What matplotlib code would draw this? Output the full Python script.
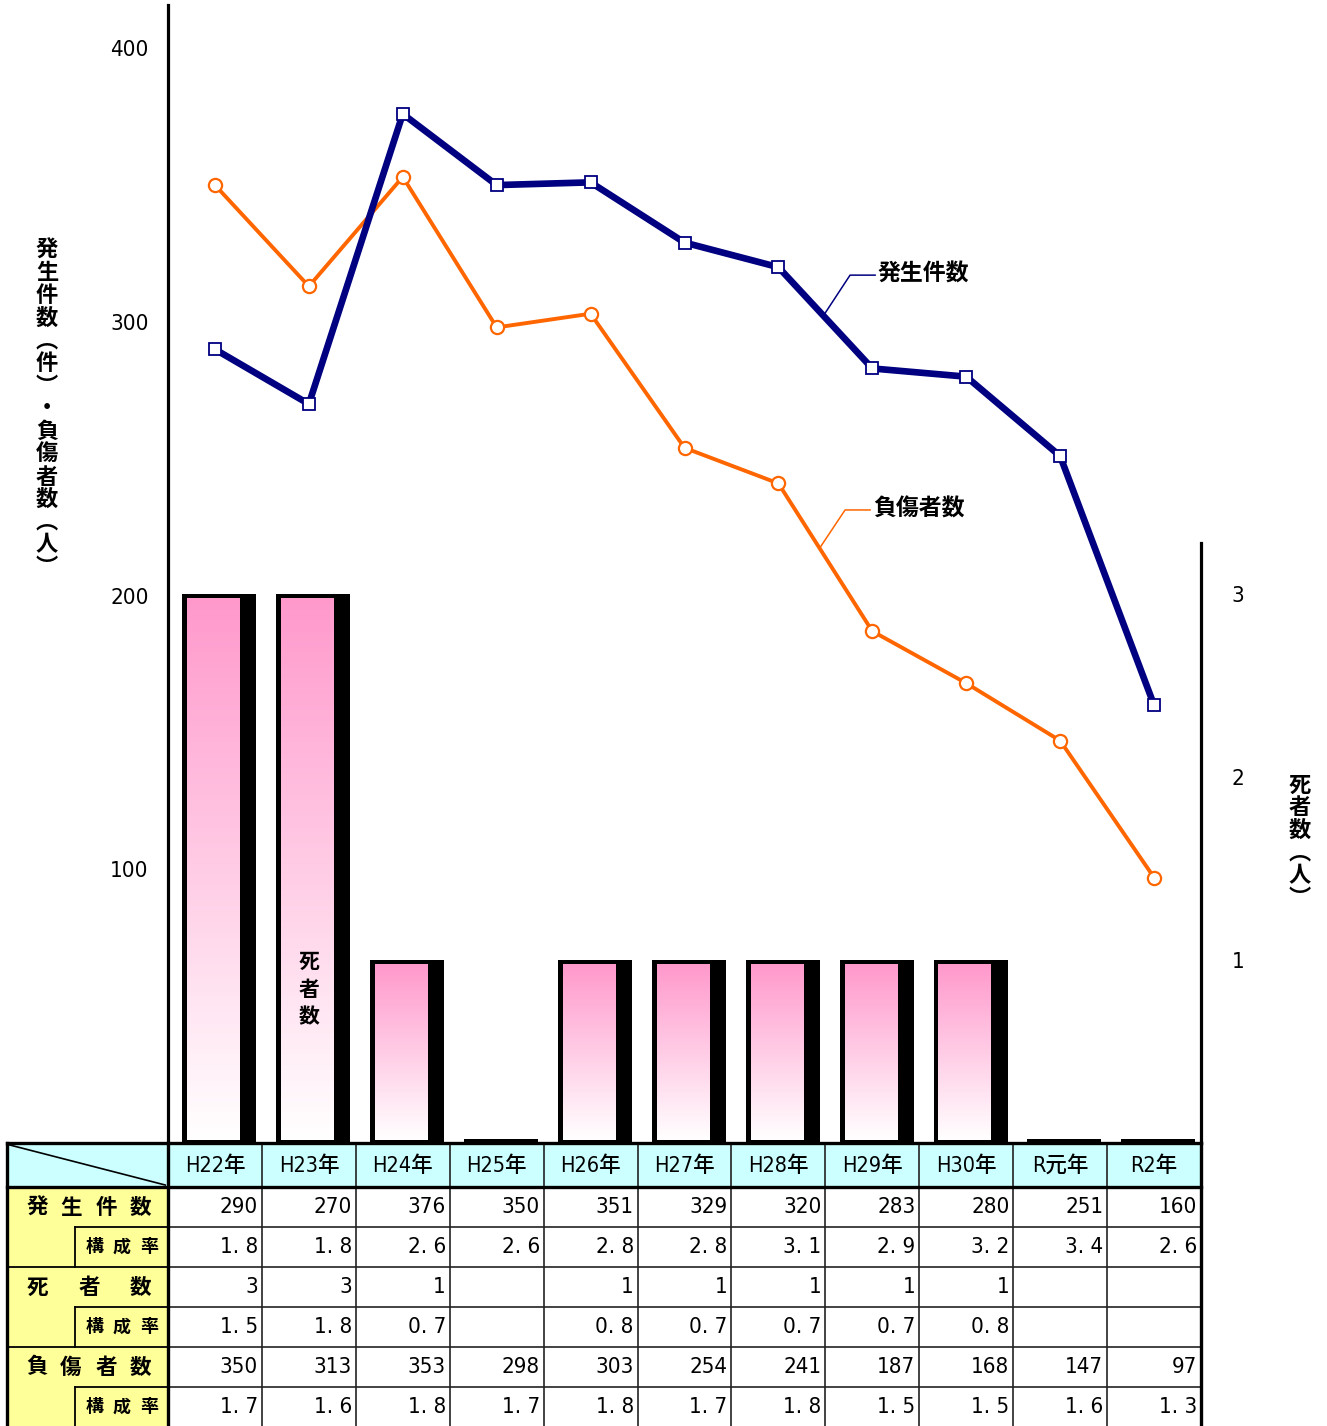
import numpy as np
import matplotlib
matplotlib.use('Agg')
import matplotlib.pyplot as plt
from matplotlib.colors import LinearSegmentedColormap
from matplotlib.patches import Rectangle

plt.rcParams['font.family'] = ['Noto Sans CJK JP', 'DejaVu Sans']

years = ['H22年', 'H23年', 'H24年', 'H25年', 'H26年', 'H27年',
         'H28年', 'H29年', 'H30年', 'R元年', 'R2年']
accidents = [290, 270, 376, 350, 351, 329, 320, 283, 280, 251, 160]
acc_rate = ['1. 8', '1. 8', '2. 6', '2. 6', '2. 8', '2. 8', '3. 1', '2. 9', '3. 2', '3. 4', '2. 6']
deaths = [3, 3, 1, None, 1, 1, 1, 1, 1, None, None]
death_rate = ['1. 5', '1. 8', '0. 7', '', '0. 8', '0. 7', '0. 7', '0. 7', '0. 8', '', '']
injured = [350, 313, 353, 298, 303, 254, 241, 187, 168, 147, 97]
inj_rate = ['1. 7', '1. 6', '1. 8', '1. 7', '1. 8', '1. 7', '1. 8', '1. 5', '1. 5', '1. 6', '1. 3']

W, H = 1327, 1426
fig = plt.figure(figsize=(W / 100, H / 100), dpi=100)

NAVY = '#000080'
ORANGE = '#ff6600'
num_font = ['DejaVu Sans', 'Noto Sans CJK JP']
num_kw = dict(family=num_font, stretch='condensed')

# ---- chart axes
ax = fig.add_axes([168 / W, (H - 1143) / H, (1201 - 168) / W, (1143 - 5) / H])
ax2 = ax.twinx()
x = np.arange(len(years))
ax.set_xlim(-0.5, len(years) - 0.5)
ax.set_ylim(0, 415.8)

# death bars with shadow + pink gradient
cmap = LinearSegmentedColormap.from_list('pk', ['#ffffff', '#ff99cc'])
grad = np.linspace(0, 1, 256).reshape(-1, 1)
for xi, d in zip(x, deaths):
    v = d if d else 0
    if v == 0:
        ax2.add_patch(Rectangle((xi - 0.348, 0), 0.788, 0.02, color='black', lw=0))
        continue
    ax2.add_patch(Rectangle((xi - 0.348, 0), 0.788, v, color='black', lw=0, zorder=1))
    ax2.imshow(grad, extent=[xi - 0.296, xi + 0.259, 0.015, v - 0.027], origin='lower',
               aspect='auto', cmap=cmap, zorder=2)
ax2.set_xlim(-0.5, len(years) - 0.5)
ax2.set_ylim(0, 1138 / 183)
for i, ch in enumerate('死者数'):
    ax2.text(1, 0.99 - i * 0.15, ch, ha='center', va='center', fontsize=15,
             fontweight='bold', zorder=3)

# lines on top
ax.set_zorder(ax2.get_zorder() + 1)
ax.patch.set_visible(False)
ax.plot(x, accidents, color=NAVY, lw=4.8, marker='s', ms=8.5, mfc='white',
        mec=NAVY, mew=1.3, zorder=5)
ax.plot(x, injured, color=ORANGE, lw=2.8, marker='o', ms=9.5, mfc='white',
        mec=ORANGE, mew=1.6, zorder=4)

# series labels with leader lines
ax.plot([6.497, 6.763, 7.03], [303.2, 317.1, 317.1], color=NAVY, lw=1.1)
ax.text(7.06, 317.5, '発生件数', ha='left', va='center', fontsize=16.5, fontweight='bold')
ax.plot([6.44, 6.71, 6.976], [217.4, 231.3, 231.3], color=ORANGE, lw=1.1)
ax.text(7.008, 231.7, '負傷者数', ha='left', va='center', fontsize=16.5, fontweight='bold')

# axes styling
for s in ['top', 'bottom', 'right']:
    ax.spines[s].set_visible(False)
ax.spines['left'].set_linewidth(2.3)
for s in ['top', 'bottom', 'left']:
    ax2.spines[s].set_visible(False)
ax2.spines['right'].set_linewidth(2.3)
ax2.spines['right'].set_bounds(0, 600 / 183)
ax.set_xticks([])
ax.set_yticks([100, 200, 300, 400])
ax.tick_params(axis='y', length=0, pad=14, labelsize=16)
ax2.set_yticks([1, 2, 3])
ax2.tick_params(axis='y', length=0, pad=22, labelsize=16)
for t in ax.get_yticklabels() + ax2.get_yticklabels():
    t.set_family(num_font)
    t.set_fontstretch('condensed')
    t.set_fontweight('medium')

# vertical axis titles (stacked characters)
left_title = list('発生件数') + ['︵', '件', '︶', '・'] + list('負傷者数') + ['︵', '人', '︶']
for i, ch in enumerate(left_title):
    fig.text(47 / W, 1 - (250 + i * 22.7) / H, ch, ha='center', va='center',
             fontsize=16, fontweight='bold')
right_title = list('死者数') + ['︵', '人', '︶']
for i, ch in enumerate(right_title):
    fig.text(1300 / W, 1 - (785 + i * 22.7) / H, ch, ha='center', va='center',
             fontsize=16, fontweight='bold')

# ---- data table
tx = fig.add_axes([7 / W, 0, (1201 - 7) / W, 283 / H])
x_left = -0.5 - 161 / 93.9
tx.set_xlim(x_left, len(years) - 0.5)
tx.set_ylim(7.075, 0)
tx.axis('off')

CYAN = '#ccffff'
YELLOW = '#ffff99'
tx.add_patch(Rectangle((x_left, 0), len(years) - 0.5 - x_left, 1.1, color=CYAN, lw=0))
tx.add_patch(Rectangle((x_left, 1.1), -0.5 - x_left, 6, color=YELLOW, lw=0))
tx.plot([x_left + 0.03, -0.53], [0.05, 1.05], color='black', lw=1.2)

for xi, yr in zip(x, years):
    tx.text(xi, 0.56, yr, ha='center', va='center', fontsize=15.5,
            fontweight='medium', **num_kw)

rows = [accidents, acc_rate, deaths, death_rate, injured, inj_rate]
for r, vals in enumerate(rows):
    yc = 1.1 + r + 0.5
    for xi, v in zip(x, vals):
        if v is None or v == '':
            continue
        tx.text(xi + 0.46, yc, str(v), ha='right', va='center', fontsize=16,
                fontweight='medium', **num_kw)

def px(p):
    # table column coordinate for a pixel x position
    return -0.5 + (p - 168) / 93.9

group_labels = [('発生件数', [37, 71, 106, 140]),
                ('死者数', [37, 89, 140]),
                ('負傷者数', [37, 71, 106, 140])]
xs_sub = px(75)
for g, (lab, pos) in enumerate(group_labels):
    y0 = 1.1 + 2 * g
    for ch, p in zip(lab, pos):
        tx.text(px(p), y0 + 0.5, ch, ha='center', va='center', fontsize=15.5,
                fontweight='bold')
    for ch, p in zip('構成率', [95, 122, 149]):
        tx.text(px(p), y0 + 1.5, ch, ha='center', va='center', fontsize=13,
                fontweight='bold')
    tx.plot([xs_sub, -0.5], [y0 + 1, y0 + 1], color='black', lw=1.3)
    tx.plot([xs_sub, xs_sub], [y0 + 1, y0 + 2], color='black', lw=1.3)
    if g > 0:
        tx.plot([x_left, -0.5], [y0, y0], color='black', lw=1.3)

# grid lines in data region
for k in range(1, 7):
    tx.plot([-0.5, len(years) - 0.5], [1.1 + k, 1.1 + k], color='#222222', lw=1.2)
for xi in x[1:]:
    tx.plot([xi - 0.5, xi - 0.5], [0, 7.1], color='#222222', lw=1.2)

# thick borders
thick = dict(color='black', lw=2.4, clip_on=False, solid_capstyle='projecting')
tx.plot([x_left, len(years) - 0.5], [0, 0], **thick)
tx.plot([x_left, len(years) - 0.5], [1.1, 1.1], **thick)
tx.plot([x_left, x_left], [0, 7.1], **thick)
tx.plot([-0.5, -0.5], [0, 7.1], **thick)
tx.plot([len(years) - 0.5] * 2, [0, 7.1], **thick)

fig.savefig('out.png', dpi=100)
